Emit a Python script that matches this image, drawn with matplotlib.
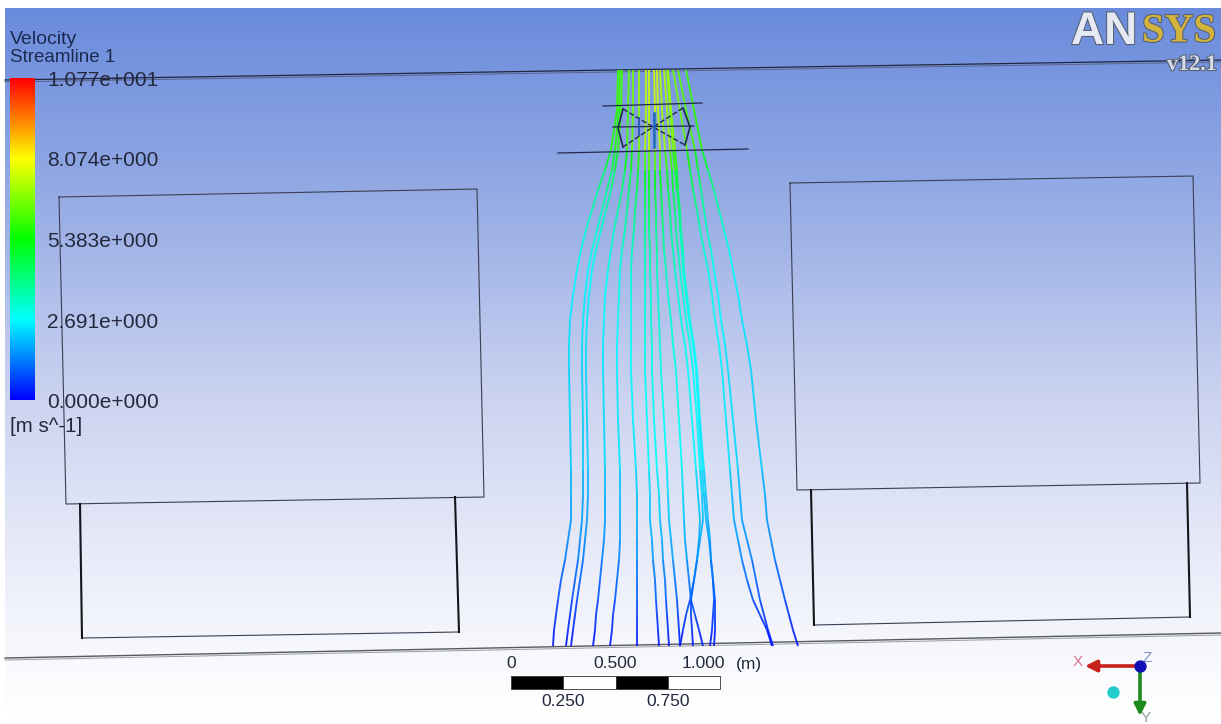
# coding=UTF-8
import numpy as np
from matplotlib import pyplot as plt
from matplotlib.collections import LineCollection
from matplotlib.colors import LinearSegmentedColormap, Normalize
from matplotlib.patches import Rectangle
import matplotlib.patheffects as pe

plt.rcParams["font.family"] = ["Liberation Sans", "DejaVu Sans"]

# colour bar
bar_ticks = [0.000, 2.691, 5.383, 8.074, 10.77]
bar_labels = ["0.000e+000", "2.691e+000", "5.383e+000", "8.074e+000", "1.077e+001"]

# streamlines, x read at each height
stream_y = [70, 110, 150, 170, 190, 210, 230, 250, 270, 295, 320, 345, 370, 420, 470, 495, 520, 540, 560, 580, 600, 615, 630, 646]
stream_speed = [6.6, 6.4, 5.5, 4.6, 4.1, 3.7, 3.4, 3.1, 2.9, 2.8, 2.7, 2.6, 2.5, 2.4, 2.1, 1.9, 1.7, 1.5, 1.2, 1.0, 0.7, 0.5, 0.3, 0.1]
line_1 = [618, 617, 611, 605, 598, 592, 586, 581, 577, 573, 570, 569, 569, 570, 571, 571, 571, 568, 565, 561, 558, 556, 554, 553]
line_2 = [620, 619, 615, 612, 607, 602, 597, 592, 588, 585, 583, 582, 582, 583, 583, 583, 582, 580, 578, 575, 572, 570, 568, 566]
line_3 = [622, 621, 618, 615, 611, 606, 601, 596, 592, 589, 587, 586, 586, 587, 588, 588, 587, 585, 583, 580, 577, 575, 573, 571]
line_4 = [629, 628, 627, 625, 622, 618, 614, 611, 608, 605, 604, 603, 603, 604, 605, 605, 605, 604, 602, 600, 598, 596, 595, 593]
line_5 = [633, 633, 632, 631, 629, 627, 625, 622, 620, 619, 618, 617, 617, 618, 620, 620, 620, 620, 619, 617, 615, 613, 612, 610]
line_6 = [639, 639, 639, 638, 637, 635, 634, 632, 631, 631, 631, 631, 631, 633, 636, 637, 637, 637, 637, 637, 637, 637, 637, 637]
line_7 = [646, 646, 645, 645, 645, 645, 645, 645, 645, 645, 645, 645, 645, 647, 649, 650, 650, 652, 653, 655, 656, 657, 658, 659]
line_8 = [649, 649, 649, 649, 649, 649, 649, 650, 650, 651, 651, 652, 652, 654, 657, 659, 660, 662, 663, 665, 666, 667, 668, 669]
line_9 = [654, 655, 655, 655, 655, 656, 656, 657, 657, 658, 659, 660, 661, 664, 667, 668, 669, 671, 673, 675, 677, 678, 679, 680]
line_10 = [657, 658, 660, 660, 661, 662, 663, 664, 666, 668, 671, 673, 676, 679, 682, 683, 684, 685, 687, 689, 691, 695, 699, 703]
line_11 = [660, 662, 665, 667, 668, 670, 671, 673, 675, 678, 681, 685, 688, 692, 696, 698, 700, 699, 697, 694, 690, 686, 683, 680]
line_12 = [664, 667, 670, 672, 673, 675, 676, 678, 680, 683, 686, 690, 693, 697, 700, 702, 703, 700, 697, 694, 691, 691, 692, 693]
line_13 = [668, 671, 675, 677, 678, 680, 681, 683, 684, 687, 690, 694, 697, 700, 704, 706, 708, 710, 711, 713, 715, 715, 715, 714]
line_14 = [673, 680, 687, 690, 693, 697, 700, 704, 708, 712, 715, 719, 722, 726, 730, 732, 734, 738, 742, 747, 753, 760, 767, 772]
line_15 = [678, 686, 695, 698, 701, 704, 707, 711, 714, 718, 721, 725, 728, 733, 738, 740, 742, 747, 752, 756, 760, 764, 768, 773]
line_16 = [686, 694, 702, 708, 714, 719, 724, 729, 733, 738, 742, 747, 751, 756, 762, 765, 767, 771, 775, 780, 785, 789, 793, 798]
line_17 = [667, 670, 673, 675, 677, 679, 680, 682, 683, 686, 689, 693, 696, 699, 702, 704, 706, 709, 711, 713, 714, 713, 712, 710]
stream_lines = [line_1, line_2, line_3, line_4, line_5, line_6, line_7, line_8, line_9,
                line_10, line_11, line_12, line_13, line_14, line_15, line_16, line_17]
# centre lines run a bit faster than outer ones
line_factor = [0.9, 0.9, 0.92, 0.95, 1.0, 1.05, 1.12, 1.15, 1.15, 1.15, 1.1, 1.1, 1.05, 1.0, 0.95, 0.9, 1.05]

# model outline
box_left_top = [(59, 197), (477, 189), (484, 497), (66, 504), (59, 197)]
box_right_top = [(790, 183), (1193, 176), (1200, 483), (797, 490), (790, 183)]
left_low_base = [(82, 638), (459, 632)]
left_low_sides = [[(80, 504), (82, 638)], [(455, 497), (459, 632)]]
right_low_base = [(814, 625), (1190, 617)]
right_low_sides = [[(811, 490), (814, 625)], [(1187, 483), (1190, 617)]]
tunnel_top = [(5, 80), (1221, 60)]
tunnel_bottom = [(5, 658), (1221, 633)]

# scale bar
scale_stops = [0, 0.25, 0.5, 0.75, 1.0]
scale_upper = ["0", "0.500", "1.000"]
scale_lower = ["0.250", "0.750"]

# 设置图形大小
fig = plt.figure(figsize=(12.21, 7.24), dpi=100)
ax = fig.add_axes([0, 0, 1, 1])

# 背景
bg_cmap = LinearSegmentedColormap.from_list("bg", [
    (0.0, "#6a8bdc"), (0.25, "#92a9e4"), (0.55, "#cbd3f0"), (0.85, "#f1f3fb"), (1.0, "#ffffff")])
ax.imshow(np.linspace(0, 1, 256).reshape(-1, 1), extent=[5, 1221, 715, 8], cmap=bg_cmap,
          aspect="auto", zorder=0)

# 模型线框
for pts in [box_left_top, box_right_top, left_low_base, right_low_base]:
    xs, ys = zip(*pts)
    ax.plot(xs, ys, color="#3a3e52", lw=0.8, zorder=1)
for pts in left_low_sides + right_low_sides:
    xs, ys = zip(*pts)
    ax.plot(xs, ys, color="#15161c", lw=1.5, zorder=1)
xs, ys = zip(*tunnel_top)
ax.plot(xs, ys, color="#20263f", lw=0.9, zorder=1)
ax.plot(xs, [v + 2 for v in ys], color="#5a6488", lw=0.7, zorder=1)
xs, ys = zip(*tunnel_bottom)
ax.plot(xs, ys, color="#55585f", lw=1.0, zorder=1)
ax.plot(xs, [v + 2 for v in ys], color="#9a9ca6", lw=0.7, zorder=1)

# 风扇
ax.plot([603, 702], [106, 103], color="#23284a", lw=0.9, zorder=3)
ax.plot([613, 694], [127, 126], color="#23284a", lw=0.9, zorder=3)
ax.plot([558, 748], [153, 149], color="#23284a", lw=0.9, zorder=3)
ax.plot([623, 653, 623], [109, 127, 147], color="#23284a", lw=1.0, ls="--", zorder=3)
ax.plot([683, 653, 685], [108, 127, 145], color="#23284a", lw=1.0, ls="--", zorder=3)
ax.plot([623, 618, 623], [109, 128, 147], color="#23284a", lw=1.2, zorder=3)
ax.plot([683, 690, 685], [108, 127, 145], color="#23284a", lw=1.2, zorder=3)
ax.plot([654, 654], [113, 147], color="#1565c8", lw=1.8, zorder=3)
ax.plot([639, 639], [118, 135], color="#2040d0", lw=1.2, zorder=3)

# 流线
rainbow = LinearSegmentedColormap.from_list("ansys", ["#0000ff", "#00ffff", "#00ff00", "#ffff00", "#ff0000"])
norm = Normalize(0, 10.77)
for line, factor in zip(stream_lines, line_factor):
    pts = np.column_stack([line, stream_y])
    segs = np.stack([pts[:-1], pts[1:]], axis=1)
    speeds = np.array(stream_speed[:-1]) * factor
    lc = LineCollection(segs, colors=rainbow(norm(speeds)), linewidths=1.35, alpha=0.9, zorder=2)
    ax.add_collection(lc)

# 色标
ax.imshow(np.linspace(1, 0, 256).reshape(-1, 1), extent=[10, 35, 400, 78], cmap=rainbow,
          aspect="auto", zorder=4)
ax.text(10, 40, "Velocity", fontsize=14, color="#1d2a50", va="center", zorder=5)
ax.text(10, 58, "Streamline 1", fontsize=13.5, color="#1d2a50", va="center", zorder=5)
for v, lab in zip(bar_ticks, bar_labels):
    ypos = 403 - v / 10.77 * 323
    ax.text(47, ypos, lab, fontsize=15, color="#23283c", va="center", zorder=5)
ax.text(10, 426, "[m s^-1]", fontsize=14.8, color="#23283c", va="center", zorder=5)

# 比例尺
x0, x1 = 511, 720
for i in range(4):
    left = x0 + (x1 - x0) * scale_stops[i]
    w = (x1 - x0) * (scale_stops[i + 1] - scale_stops[i])
    ax.add_patch(Rectangle((left, 676), w, 13, fc="black" if i % 2 == 0 else "white",
                           ec="#333333", lw=0.6, zorder=3))
for s, lab in zip(scale_stops[0::2], scale_upper):
    ax.text(x0 + (x1 - x0) * s - (0 if s < 1 else 17), 664, lab, fontsize=12.5, color="#23283c",
            ha="center", va="center")
for s, lab in zip(scale_stops[1::2], scale_lower):
    ax.text(x0 + (x1 - x0) * s, 701, lab, fontsize=12.5, color="#23283c", ha="center", va="center")
ax.text(749, 664, "(m)", fontsize=12.5, color="#23283c", ha="center", va="center")

# 坐标轴指示
ax.annotate("", xy=(1085, 666), xytext=(1140, 666),
            arrowprops=dict(arrowstyle="-|>", color="#c8201c", lw=2.6, mutation_scale=17, shrinkA=0, shrinkB=0))
ax.annotate("", xy=(1140, 716), xytext=(1140, 666),
            arrowprops=dict(arrowstyle="-|>", color="#1e8a1e", lw=2.6, mutation_scale=17, shrinkA=0, shrinkB=0))
ax.scatter([1140], [666], s=62, color="#1010b8", zorder=5)
ax.scatter([1113], [692], s=62, color="#22cccc", zorder=5)
ax.text(1078, 662, "X", fontsize=11, color="#e07090", ha="center", va="center")
ax.text(1147, 658, "Z", fontsize=11, color="#8090c0", ha="center", va="center")
ax.text(1146, 718, "Y", fontsize=11, color="#90a090", ha="center", va="center")

# 标志
shadow = [pe.withStroke(linewidth=1.5, foreground="#55606f")]
ax.text(1071, 32, "AN", fontsize=33, fontweight="bold", color="#e4e9f4", va="center", ha="left",
        path_effects=shadow)
ax.text(1142, 32, "SYS", fontfamily="Liberation Serif", fontsize=29, fontweight="bold", color="#d2b43c",
        va="center", ha="left", path_effects=shadow)
ax.text(1217, 65, "v12.1", fontfamily="Liberation Serif", fontsize=16, fontweight="bold",
        color="#d5dbe8", va="center", ha="right", path_effects=shadow)

ax.set_xlim(0, 1221)
ax.set_ylim(724, 0)
ax.axis("off")

# 保存图形
plt.savefig("out.png", dpi=100)
